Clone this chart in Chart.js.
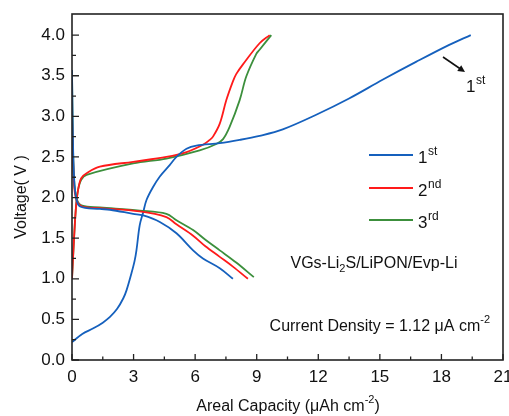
<!DOCTYPE html>
<html>
<head>
<meta charset="utf-8">
<script src="https://cdn.jsdelivr.net/npm/chart.js@4.4.1/dist/chart.umd.min.js"></script>
<style>
html,body{margin:0;padding:0;background:#fff;}
#wrap{width:509px;height:416px;position:relative;}
</style>
</head>
<body>
<div id="wrap"><canvas id="c" width="509" height="416"></canvas></div>
<script>
// ---- data (areal capacity in µAh cm^-2, voltage in V) ----
const cap1Charge = [0,0.5,1.04,1.5,1.85,2.2,2.5,2.66,2.9,3.05,3.14,3.3,3.47,3.63,3.95,4.28,4.76,5.09,5.58,6.06,7.2,8.17,9.14,10.27,11.9,13.5,15.13,16.76,18.38,19.43];
const v1Charge   = [0.22,0.32,0.39,0.46,0.53,0.63,0.76,0.86,1.07,1.22,1.35,1.66,1.82,1.97,2.13,2.26,2.4,2.5,2.6,2.64,2.67,2.71,2.76,2.84,3.02,3.22,3.45,3.67,3.88,4.0];
const cap1Dis = [0,0.04,0.1,0.2,0.39,1.36,1.85,2.98,3.47,4.28,5.09,5.9,6.38,7.2,7.84];
const v1Dis   = [3.57,2.8,2.25,2.0,1.89,1.86,1.85,1.8,1.78,1.7,1.56,1.35,1.25,1.13,1.0];
const cap2Charge = [0,0.1,0.2,0.3,0.45,0.71,1.36,2.98,4.6,5.58,6.38,6.71,6.87,7.2,7.52,7.84,8.0,8.33,9.14,9.63];
const v2Charge   = [1.0,1.5,1.9,2.1,2.24,2.3,2.38,2.44,2.5,2.56,2.65,2.71,2.75,2.91,3.2,3.43,3.52,3.64,3.9,4.0];
const cap2Dis = [0,0.05,0.12,0.25,0.5,1.36,3.3,4.6,5.09,5.9,6.5,7.2,7.84,8.57];
const v2Dis   = [3.0,2.5,2.1,1.95,1.89,1.87,1.83,1.76,1.67,1.53,1.4,1.27,1.15,1.0];
const cap3Charge = [0,0.1,0.2,0.3,0.45,0.71,2.98,4.6,6.22,7.03,7.36,7.68,8.17,8.49,8.98,9.14,9.71];
const v3Charge   = [1.0,1.5,1.9,2.1,2.22,2.28,2.42,2.48,2.58,2.66,2.72,2.87,3.2,3.49,3.77,3.82,4.0];
const cap3Dis = [0,0.05,0.12,0.25,0.5,1.36,3.3,4.6,5.09,5.9,6.5,7.2,8.0,8.86];
const v3Dis   = [3.55,2.6,2.15,1.97,1.9,1.88,1.84,1.8,1.72,1.6,1.48,1.35,1.2,1.02];

const cycleLabels = ['1', '2', '3'];
const cycleSups = ['st', 'nd', 'rd'];
const xTicks = [0,3,6,9,12,15,18,21];
const yTicks = [0,0.5,1,1.5,2,2.5,3,3.5,4];

const colors = ['#1560BD', '#FF1A1A', '#3C8F3C'];
const FONT = '"Liberation Sans", Arial, sans-serif';

function pts(xs, ys){ return xs.map((x,i)=>({x:x, y:ys[i]})); }
function ds(xs, ys, c){
  return {data: pts(xs, ys), borderColor: c, backgroundColor: c, borderWidth: 1.8,
          pointRadius: 0, showLine: true, tension: 0.35, fill: false};
}

const datasets = [
  ds(cap1Dis, v1Dis, colors[0]),
  ds(cap2Dis, v2Dis, colors[1]),
  ds(cap3Dis, v3Dis, colors[2]),
  ds(cap1Charge, v1Charge, colors[0]),
  ds(cap2Charge, v2Charge, colors[1]),
  ds(cap3Charge, v3Charge, colors[2])
];

function supText(ctx, base, sup, x, y, size, align){
  ctx.save();
  ctx.fillStyle = '#111';
  ctx.textBaseline = 'middle';
  ctx.font = size + 'px ' + FONT;
  const wb = ctx.measureText(base).width;
  ctx.font = Math.round(size*0.68) + 'px ' + FONT;
  const ws = ctx.measureText(sup).width;
  let x0 = x;
  if (align === 'center') x0 = x - (wb+ws)/2;
  ctx.font = size + 'px ' + FONT;
  ctx.textAlign = 'left';
  ctx.fillText(base, x0, y);
  ctx.font = Math.round(size*0.68) + 'px ' + FONT;
  ctx.fillText(sup, x0 + wb + 0.5, y - size*0.38);
  ctx.restore();
}

const decor = {
  id: 'decor',
  afterDraw(chart){
    const ctx = chart.ctx;
    const xs = chart.scales.x, ys = chart.scales.y;
    const a = chart.chartArea;
    ctx.save();
    // frame
    ctx.strokeStyle = '#222';
    ctx.lineWidth = 1.6;
    ctx.strokeRect(a.left, a.top, a.right - a.left, a.bottom - a.top);
    // inward ticks
    ctx.lineWidth = 1.3;
    ctx.beginPath();
    for (let v = 0; v <= 21.001; v += 1.5) {
      const px = xs.getPixelForValue(v);
      const major = Math.abs(v/3 - Math.round(v/3)) < 1e-6;
      ctx.moveTo(px, a.bottom); ctx.lineTo(px, a.bottom - (major ? 6 : 3.5));
    }
    for (let v = 0; v <= 4.001; v += 0.25) {
      const py = ys.getPixelForValue(v);
      const major = Math.abs(v/0.5 - Math.round(v/0.5)) < 1e-6;
      ctx.moveTo(a.left, py); ctx.lineTo(a.left + (major ? 7 : 4), py);
    }
    ctx.stroke();

    // legend
    const legY = [155, 188, 220];
    for (let i = 0; i < 3; i++) {
      ctx.strokeStyle = colors[i];
      ctx.lineWidth = 2;
      ctx.beginPath();
      ctx.moveTo(369, legY[i]); ctx.lineTo(413, legY[i]);
      ctx.stroke();
      supText(ctx, cycleLabels[i], cycleSups[i], 418, legY[i] + 3, 17, 'left');
    }

    // arrow + 1st annotation
    ctx.strokeStyle = '#111';
    ctx.fillStyle = '#111';
    ctx.lineWidth = 1.6;
    const ax0 = 443, ay0 = 57, ax1 = 465, ay1 = 72;
    ctx.beginPath(); ctx.moveTo(ax0, ay0); ctx.lineTo(ax1 - 3, ay1 - 2); ctx.stroke();
    const ang = Math.atan2(ay1 - ay0, ax1 - ax0);
    ctx.beginPath();
    ctx.moveTo(ax1, ay1);
    ctx.lineTo(ax1 - 7*Math.cos(ang) + 3.5*Math.sin(ang), ay1 - 7*Math.sin(ang) - 3.5*Math.cos(ang));
    ctx.lineTo(ax1 - 7*Math.cos(ang) - 3.5*Math.sin(ang), ay1 - 7*Math.sin(ang) + 3.5*Math.cos(ang));
    ctx.closePath(); ctx.fill();
    supText(ctx, '1', 'st', 466, 87, 17, 'left');

    // cell label with subscript
    ctx.fillStyle = '#111';
    ctx.textBaseline = 'middle';
    ctx.textAlign = 'left';
    const parts1 = 'VGs-Li', sub = '2', parts2 = 'S/LiPON/Evp-Li';
    ctx.font = '16px ' + FONT;
    const w1 = ctx.measureText(parts1).width, w3 = ctx.measureText(parts2).width;
    ctx.font = '11px ' + FONT;
    const w2 = ctx.measureText(sub).width;
    let sx = 374 - (w1 + w2 + w3)/2;
    const sy = 264;
    ctx.font = '16px ' + FONT; ctx.fillText(parts1, sx, sy);
    ctx.font = '11px ' + FONT; ctx.fillText(sub, sx + w1, sy + 5);
    ctx.font = '16px ' + FONT; ctx.fillText(parts2, sx + w1 + w2, sy);

    // current density
    ctx.font = '16px ' + FONT;
    const cd = 'Current Density = 1.12 \u03bcA cm';
    const wcd = ctx.measureText(cd).width;
    ctx.font = '11px ' + FONT;
    const wsup = ctx.measureText('-2').width;
    const cx0 = 490 - wcd - wsup;
    ctx.font = '16px ' + FONT; ctx.fillText(cd, cx0, 327);
    ctx.font = '11px ' + FONT; ctx.fillText('-2', cx0 + wcd, 320);

    // x title
    ctx.font = '16px ' + FONT;
    const xt = 'Areal Capacity (\u03bcAh cm', xt2 = ')';
    const wx1 = ctx.measureText(xt).width, wx3 = ctx.measureText(xt2).width;
    ctx.font = '11px ' + FONT;
    const wx2 = ctx.measureText('-2').width;
    const xtx = 288 - (wx1 + wx2 + wx3)/2, xty = 407;
    ctx.font = '16px ' + FONT; ctx.fillText(xt, xtx, xty);
    ctx.font = '11px ' + FONT; ctx.fillText('-2', xtx + wx1, xty - 7);
    ctx.font = '16px ' + FONT; ctx.fillText(xt2, xtx + wx1 + wx2, xty);

    // y title
    ctx.save();
    ctx.translate(22, 197);
    ctx.rotate(-Math.PI/2);
    ctx.textAlign = 'center';
    ctx.font = '16px ' + FONT;
    ctx.fillText('Voltage( V )', 0, 0);
    ctx.restore();

    ctx.restore();
  }
};

new Chart(document.getElementById('c'), {
  type: 'line',
  data: { datasets: datasets },
  options: {
    responsive: false,
    animation: false,
    layout: { padding: { top: 14, right: 6, left: 0, bottom: 0 } },
    plugins: { legend: { display: false }, tooltip: { enabled: false } },
    scales: {
      x: {
        type: 'linear', min: 0, max: 21,
        grid: { display: false, drawTicks: false },
        border: { display: false },
        afterBuildTicks(s){ s.ticks = xTicks.map(v => ({value: v})); },
        afterFit(s){ s.height = 56; s.paddingRight = 0; s.paddingLeft = 0; },
        ticks: { padding: 7, color: '#111', font: { family: FONT, size: 17 }, maxRotation: 0,
                 callback: v => String(v) }
      },
      y: {
        type: 'linear', min: 0, max: 4.26,
        grid: { display: false, drawTicks: false },
        border: { display: false },
        afterBuildTicks(s){ s.ticks = yTicks.map(v => ({value: v})); },
        afterFit(s){ s.width = 72; s.paddingTop = 0; s.paddingBottom = 0; },
        ticks: { padding: 7, color: '#111', font: { family: FONT, size: 17 },
                 callback: v => Number(v).toFixed(1) }
      }
    }
  },
  plugins: [decor]
});
</script>
</body>
</html>
